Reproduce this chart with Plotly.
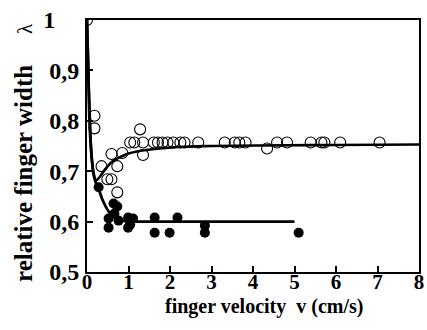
import plotly.graph_objects as go

# open circles (v, lambda)
open_v = [0.0, 0.18, 0.18, 1.28,
          1.04, 1.14, 1.35, 1.61, 1.71, 1.82, 1.94, 2.08, 2.25, 2.35, 2.68, 3.32,
          3.56, 3.67, 3.82, 4.58, 4.82, 5.39, 5.65, 5.72, 6.10, 7.05,
          4.34, 1.35, 0.59, 0.85, 0.35, 0.73, 0.49, 0.59, 0.73]
open_l = [1.0, 0.81, 0.785, 0.783,
          0.757, 0.757, 0.757, 0.757, 0.757, 0.757, 0.757, 0.757, 0.757, 0.757, 0.757, 0.757,
          0.757, 0.757, 0.757, 0.757, 0.757, 0.757, 0.757, 0.757, 0.757, 0.757,
          0.745, 0.732, 0.734, 0.736, 0.71, 0.71, 0.684, 0.684, 0.658]

# filled circles (v, lambda)
fill_v = [0.28, 0.64, 0.73, 0.66, 0.52, 0.76, 0.99, 1.11, 0.52, 0.99, 1.04,
          1.63, 1.63, 1.99, 2.18, 2.84, 2.84, 5.10]
fill_l = [0.668, 0.636, 0.630, 0.616, 0.606, 0.602, 0.608, 0.606, 0.588, 0.588, 0.594,
          0.608, 0.578, 0.578, 0.608, 0.592, 0.578, 0.578]

# fitted curves
curve_open_v = [0.0, 0.04, 0.08, 0.12, 0.17, 0.22, 0.30, 0.45, 0.62, 0.80, 1.0, 1.42, 2.2, 3.0, 4.1, 6.0, 8.0]
curve_open_l = [1.0, 0.88, 0.78, 0.72, 0.69, 0.682, 0.688, 0.705, 0.72, 0.728, 0.735, 0.742, 0.748, 0.750, 0.751, 0.752, 0.753]
curve_fill_v = [0.0, 0.03, 0.06, 0.10, 0.15, 0.20, 0.30, 0.38, 0.54, 0.70, 0.85, 1.2, 2.0, 3.0, 5.0]
curve_fill_l = [1.0, 0.90, 0.80, 0.74, 0.70, 0.68, 0.66, 0.642, 0.618, 0.608, 0.602, 0.600, 0.600, 0.600, 0.600]

x_ticks = [0, 1, 2, 3, 4, 5, 6, 7, 8]
x_ticktext = ["0", "1", "2", "3", "4", "5", "6", "7", "8"]
y_ticks = [0.5, 0.6, 0.7, 0.8, 0.9, 1.0]
y_ticktext = ["0,5", "0,6", "0,7", "0,8", "0,9", "1\u00a0\u00a0\u00a0\u00a0"]
x_title = "finger velocity\u00a0\u00a0v (cm/s)"
y_title = "relative finger width"
y_symbol = "λ"

FONT = "Liberation Serif"

fig = go.Figure()
fig.add_trace(go.Scatter(x=curve_fill_v, y=curve_fill_l, mode="lines",
                         line=dict(color="black", width=2.8, shape="spline"), showlegend=False))
fig.add_trace(go.Scatter(x=curve_open_v, y=curve_open_l, mode="lines",
                         line=dict(color="black", width=2.6, shape="spline"), showlegend=False))
fig.add_trace(go.Scatter(x=open_v, y=open_l, mode="markers",
                         marker=dict(symbol="circle-open", size=11, color="black",
                                     line=dict(width=1.1, color="black")), showlegend=False))
fig.add_trace(go.Scatter(x=fill_v, y=fill_l, mode="markers",
                         marker=dict(symbol="circle", size=10, color="black"), showlegend=False))

axis_common = dict(showgrid=False, zeroline=False, showline=True, linecolor="black",
                   linewidth=2, mirror=True, ticks="inside", tickcolor="black",
                   tickwidth=2, ticklen=6)

fig.update_xaxes(range=[0, 8], tickvals=x_ticks,
                 ticktext=["<b>%s</b>" % t for t in x_ticktext],
                 tickfont=dict(family=FONT, size=21, color="black"),
                 ticklabeloverflow="allow", ticklabelstandoff=-10,
                 **axis_common)
fig.update_yaxes(range=[0.5, 1.0], tickvals=y_ticks,
                 ticktext=["<b>%s</b>" % t for t in y_ticktext],
                 tickfont=dict(family=FONT, size=24, color="black"),
                 ticklabelstandoff=1,
                 **axis_common)

fig.add_annotation(text="<b>" + x_title + "</b>", xref="paper", yref="paper",
                   x=(267 - 87) / 337, y=-(306 - 272) / 252, xanchor="center", yanchor="middle",
                   showarrow=False, font=dict(family=FONT, size=20, color="black"))
fig.add_annotation(text="<b>" + y_title + "</b>", xref="paper", yref="paper",
                   x=(22 - 87) / 337, y=(272 - 173) / 252, xanchor="center", yanchor="middle",
                   textangle=-90, showarrow=False, font=dict(family=FONT, size=25, color="black"))
fig.add_annotation(text=y_symbol, xref="paper", yref="paper",
                   x=(24 - 87) / 337, y=(272 - 28) / 252, xanchor="center", yanchor="middle",
                   textangle=-90, showarrow=False, font=dict(family=FONT, size=21, color="black"))

fig.update_layout(width=427, height=330, margin=dict(l=87, r=3, t=20, b=58),
                  plot_bgcolor="white", paper_bgcolor="white",
                  font=dict(family=FONT, color="black"))

fig.write_html("out.html")
